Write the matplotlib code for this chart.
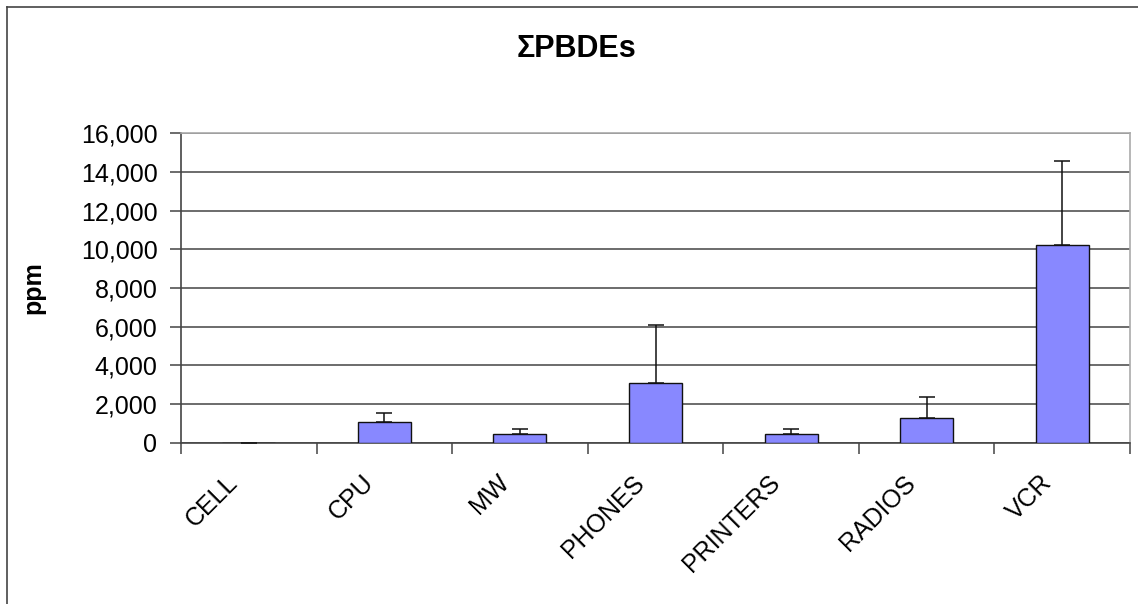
import numpy as np
import matplotlib
matplotlib.use("Agg")
import matplotlib.pyplot as plt
from matplotlib.lines import Line2D
from matplotlib.transforms import ScaledTranslation

plt.rcParams['font.family'] = ['Liberation Sans', 'DejaVu Sans']

categories = ["CELL", "CPU", "MW", "PHONES", "PRINTERS", "RADIOS", "VCR"]
means = [0, 1080, 440, 3080, 440, 1290, 10240]
errors = [np.nan, 480, 270, 3030, 270, 1080, 4330]
yticks = [0, 2000, 4000, 6000, 8000, 10000, 12000, 14000, 16000]

W, H = 1138, 604
fig = plt.figure(figsize=(W / 100, H / 100), dpi=100)

# chart-area frame (only left and top edges visible)
fig.add_artist(Line2D([7 / W, 7 / W], [0, 1 - 7 / H], color="#444", lw=1.2))
fig.add_artist(Line2D([7 / W, 1], [1 - 7 / H, 1 - 7 / H], color="#444", lw=1.2))

ax = fig.add_axes([181 / W, 1 - 442.7 / H, 949 / W, 309.4 / H])

x = np.arange(len(categories))
ax.bar(x, means, width=0.39, color="#8888ff", edgecolor="#111", linewidth=1.0, zorder=3)
ax.errorbar(x, means, yerr=[np.zeros(len(errors)), errors], fmt="none",
            ecolor="#111", elinewidth=1.1, capsize=5.5, capthick=1.1, zorder=4)

ax.set_xlim(-0.5, len(categories) - 0.5)
ax.set_ylim(0, 16000)
ax.set_yticks(yticks)
ax.set_yticklabels([f"{v:,}" for v in yticks])
ax.grid(axis="y", color="#444", lw=1.1, zorder=1)

# category ticks sit between bars
ax.set_xticks(np.arange(len(categories) + 1) - 0.5, minor=False)
ax.set_xticklabels([])
ax.set_xticks(x, minor=True)
ax.set_xticklabels(categories, minor=True, rotation=45, ha="right",
                   rotation_mode="anchor", fontsize=18)
ax.tick_params(axis="x", which="minor", length=0, pad=20)
ax.tick_params(axis="x", which="major", length=8, width=1.1, color="#444")
ax.tick_params(axis="y", length=8, width=1.1, color="#444", labelsize=18, pad=9)
shift = ScaledTranslation(-0.23, 0, fig.dpi_scale_trans)
for lab in ax.get_xticklabels(minor=True):
    lab.set_transform(lab.get_transform() + shift)

for s in ["left", "bottom"]:
    ax.spines[s].set_color("#444")
    ax.spines[s].set_linewidth(1.2)
for s in ["top", "right"]:
    ax.spines[s].set_color("#aaa")
    ax.spines[s].set_linewidth(1.2)

ax.set_ylabel("ppm", fontsize=18, fontweight="bold")
ax.yaxis.set_label_coords(-0.143, 0.5)

fig.text(577 / W, 1 - 49 / H, "ΣPBDEs", ha="center", va="center",
         fontsize=22, fontweight="bold")

fig.savefig("out.png", dpi=100)
